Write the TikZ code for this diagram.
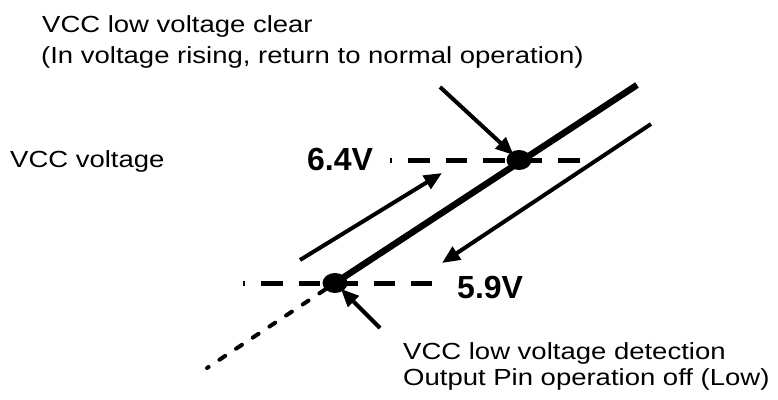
\documentclass[tikz,border=0pt]{standalone}
\usepackage{fontspec}
\setmainfont{Liberation Sans}
\newfontfamily\labelfont[FakeStretch=1.18]{Liberation Sans}
\usetikzlibrary{arrows.meta,shapes.geometric}
\definecolor{Ink}{HTML}{000000}
\tikzset{
  caption/.style={anchor=base west,inner sep=0pt,text=Ink,font=\labelfont\fontsize{23.3}{28}\selectfont},
  volt/.style={anchor=base west,inner sep=0pt,text=Ink,font=\bfseries\fontsize{32}{38}\selectfont},
  dot/.style={ellipse,fill=Ink,inner sep=0pt,minimum width=25pt,minimum height=20pt},
  trace/.style={draw=Ink,line width=6.5pt},
  threshold/.style={draw=Ink,line width=5pt,dash pattern=on 21.5pt off 16pt,dash phase=19.5pt},
  falloff/.style={draw=Ink,line width=4pt,line cap=round,dash pattern=on 7pt off 13pt},
  arrow/.style={-{Triangle[length=18pt,width=15pt]},line width=4pt,draw=Ink}
}
\begin{document}
\begin{tikzpicture}[x=1pt,y=-1pt]
\useasboundingbox (0,0) rectangle (778,399);
\node[caption] (clr1) at (42,32) {VCC low voltage clear};
\node[caption] (clr2) at (41,63) {(In voltage rising, return to normal operation)};
\node[caption] (vcc) at (10,167) {VCC voltage};
\node[volt] (v64) at (307,170) {6.4V};
\node[volt] (v59) at (457,298) {5.9V};
\node[caption] (det1) at (403,359) {VCC low voltage detection};
\node[caption] (det2) at (403,385) {Output Pin operation off (Low)};
\node[dot] (hi) at (519,160) {};
\node[dot] (lo) at (335,283) {};
\coordinate (top) at (637,85);
\coordinate (hiL) at (390,160);
\coordinate (hiR) at (580,160);
\coordinate (loL) at (243,283);
\coordinate (loR) at (432,283);
\coordinate (tail) at (207,368);
\coordinate (upA) at (300,260);
\coordinate (upB) at (442,173);
\coordinate (dnA) at (651,124);
\coordinate (dnB) at (442,263);
\coordinate (clrtail) at (440,87);
\coordinate (dettail) at (380,328);
\draw[threshold] (hiL) -- (hiR);
\draw[threshold] (loL) -- (loR);
\draw[trace] (lo.center) -- (top);
\draw[falloff] (lo) -- (tail);
\draw[arrow] (upA) -- (upB);
\draw[arrow] (dnA) -- (dnB);
\draw[arrow,shorten >=-4pt] (clrtail) -- (hi);
\draw[arrow,shorten >=-3pt] (dettail) -- (lo);
\end{tikzpicture}
\end{document}
